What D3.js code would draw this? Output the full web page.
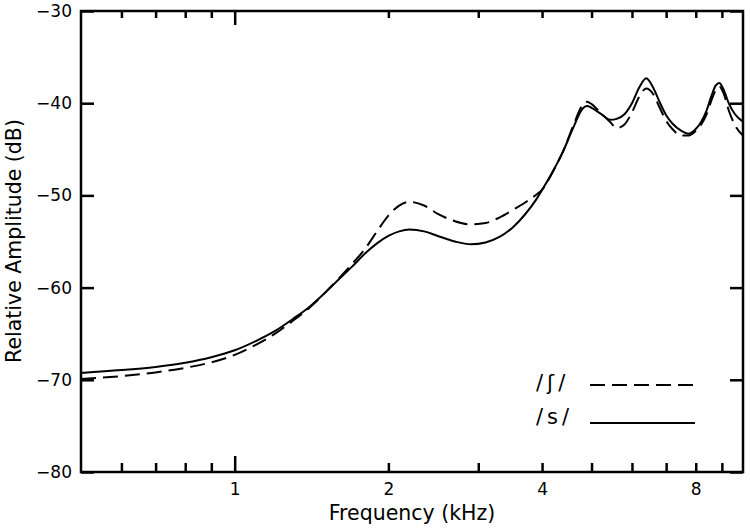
<!DOCTYPE html>
<html>
<head>
<meta charset="utf-8">
<script src="https://cdn.jsdelivr.net/npm/d3@7"></script>
<style>
  html, body { margin: 0; padding: 0; background: #fff; }
  svg { display: block; font-family: "DejaVu Sans", sans-serif; }
</style>
</head>
<body>
<svg id="chart" width="750" height="529"></svg>
<script>
// frequency (kHz) sampled along the curves
var freq = [0.5, 0.6, 0.7, 0.8, 0.9, 1.0, 1.1, 1.2, 1.3, 1.4, 1.5, 1.6, 1.7, 1.8, 1.9,
    2.0, 2.1, 2.2, 2.35, 2.5, 2.7, 2.9, 3.1, 3.3, 3.5, 3.7, 3.9, 4.0, 4.2, 4.4, 4.6,
    4.8, 4.9, 5.0, 5.2, 5.45, 5.6, 5.8, 6.0, 6.2, 6.4, 6.6, 6.8, 7.0, 7.2, 7.5, 7.75,
    8.0, 8.2, 8.4, 8.6, 8.75, 8.9, 9.05, 9.3, 9.55, 9.9];

// /s/ - solid line (dB)
var db_s = [-69.25, -68.95, -68.6, -68.15, -67.55, -66.8, -65.8, -64.7, -63.4, -62.1, -60.6, -59.1, -57.7, -56.3, -55.2,
    -54.4, -53.9, -53.7, -53.9, -54.4, -55.0, -55.3, -55.1, -54.5, -53.5, -52.1, -50.4, -49.4, -47.4, -45.2, -42.7,
    -40.6, -40.3, -40.5, -41.1, -41.8, -41.7, -41.2, -40.0, -38.3, -37.3, -38.3, -39.9, -41.3, -42.2, -43.0, -43.3,
    -42.8, -42.0, -40.8, -39.1, -38.1, -37.8, -38.4, -40.1, -41.2, -42.0];

// /ʃ/ - dashed line (dB)
var db_esh = [-69.9, -69.6, -69.2, -68.7, -68.1, -67.3, -66.2, -65.0, -63.6, -62.2, -60.6, -59.0, -57.4, -55.8, -53.9,
    -52.2, -51.1, -50.7, -51.1, -52.0, -52.8, -53.15, -53.0, -52.4, -51.6, -50.8, -49.9, -49.4, -47.4, -45.2, -42.5,
    -40.2, -39.85, -40.1, -41.0, -42.1, -42.7, -42.3, -41.0, -39.3, -38.4, -39.0, -40.5, -41.9, -42.8, -43.5, -43.5,
    -43.0, -42.3, -41.2, -39.6, -38.6, -38.2, -38.8, -40.9, -42.4, -43.5];

var x_ticks = [0.6, 0.7, 0.8, 0.9, 1, 2, 3, 4, 5, 6, 7, 8, 9];   // ticks on frequency axis
var x_labels = [1, 2, 4, 8];                                    // labelled ones
var y_ticks = [-80, -70, -60, -50, -40, -30];

var p_left = 81, p_right = 743, p_top = 11, p_bottom = 472;   //绘图区边界

var svg = d3.select("#chart");

var x = d3.scaleLog().domain([0.5, 9.9]).range([p_left, p_right]);
var y = d3.scaleLinear().domain([-80, -30]).range([p_bottom, p_top]);

//曲线
var line = d3.line()
    .x(function(d) { return x(d[0]); })
    .y(function(d) { return y(d[1]); })
    .curve(d3.curveMonotoneX);

svg.append("path")
    .datum(d3.zip(freq, db_esh))
    .attr("d", line)
    .attr("fill", "none")
    .attr("stroke", "#000")
    .attr("stroke-width", 2)
    .attr("stroke-dasharray", "15,7");

svg.append("path")
    .datum(d3.zip(freq, db_s))
    .attr("d", line)
    .attr("fill", "none")
    .attr("stroke", "#000")
    .attr("stroke-width", 2);

//坐标轴 - bottom
var gx = svg.append("g")
    .attr("transform", "translate(0," + p_bottom + ")")
    .call(d3.axisBottom(x)
        .tickValues(x_ticks)
        .tickSize(0)
        .tickFormat(function(d) { return x_labels.indexOf(d) >= 0 ? d : ""; }));
gx.select(".domain").remove();
gx.attr("font-size", "17px").attr("font-family", "DejaVu Sans, sans-serif");
gx.selectAll(".tick line")
    .attr("y2", function(d) { return d === 1 ? -16 : -9; })
    .attr("stroke-width", 2.5);
gx.selectAll(".tick text")
    .attr("y", 23).attr("dy", 0);

//坐标轴 - top (mirror)
var gt = svg.append("g")
    .attr("transform", "translate(0," + p_top + ")")
    .call(d3.axisTop(x).tickValues(x_ticks).tickSize(0).tickFormat(""));
gt.select(".domain").remove();
gt.selectAll(".tick line")
    .attr("y2", function(d) { return d === 1 ? 14 : 7; })
    .attr("stroke-width", 2.5);

//坐标轴 - left
var gy = svg.append("g")
    .attr("transform", "translate(" + p_left + ",0)")
    .call(d3.axisLeft(y)
        .tickValues(y_ticks)
        .tickSize(0)
        .tickPadding(9)
        .tickFormat(function(d) { return String(d).replace("-", "\u2212"); }));
gy.select(".domain").remove();
gy.attr("font-size", "17px").attr("font-family", "DejaVu Sans, sans-serif");
gy.selectAll(".tick line").attr("x2", 13).attr("stroke-width", 2.5);

//坐标轴 - right
var gr = svg.append("g")
    .attr("transform", "translate(" + p_right + ",0)")
    .call(d3.axisRight(y).tickValues(y_ticks).tickSize(0).tickFormat(""));
gr.select(".domain").remove();
gr.selectAll(".tick line").attr("x2", -13).attr("stroke-width", 2.5);

//边框
svg.append("rect")
    .attr("x", p_left).attr("y", p_top)
    .attr("width", p_right - p_left).attr("height", p_bottom - p_top)
    .attr("fill", "none")
    .attr("stroke", "#000")
    .attr("stroke-width", 2.5);

//轴标题
svg.append("text")
    .attr("x", 412)
    .attr("y", 520)
    .attr("text-anchor", "middle")
    .attr("font-size", "20.5px")
    .text("Frequency (kHz)");

svg.append("text")
    .attr("transform", "translate(21,241) rotate(-90)")
    .attr("text-anchor", "middle")
    .attr("font-size", "20.5px")
    .text("Relative Amplitude (dB)");

//图例
var legend = [["/\u0283/", "15,7", 390, 385], ["/s/", null, 424, 423]];
var lg = svg.selectAll(".legend")
    .data(legend)
    .enter()
    .append("g")
    .attr("class", "legend");
lg.append("text")
    .attr("x", 536)
    .attr("y", function(d) { return d[2]; })
    .attr("font-size", "21px")
    .attr("letter-spacing", "4px")
    .text(function(d) { return d[0]; });
lg.append("line")
    .attr("x1", 590).attr("x2", 695)
    .attr("y1", function(d) { return d[3]; })
    .attr("y2", function(d) { return d[3]; })
    .attr("stroke", "#000")
    .attr("stroke-width", 2)
    .attr("stroke-dasharray", function(d) { return d[1]; });
</script>
</body>
</html>
